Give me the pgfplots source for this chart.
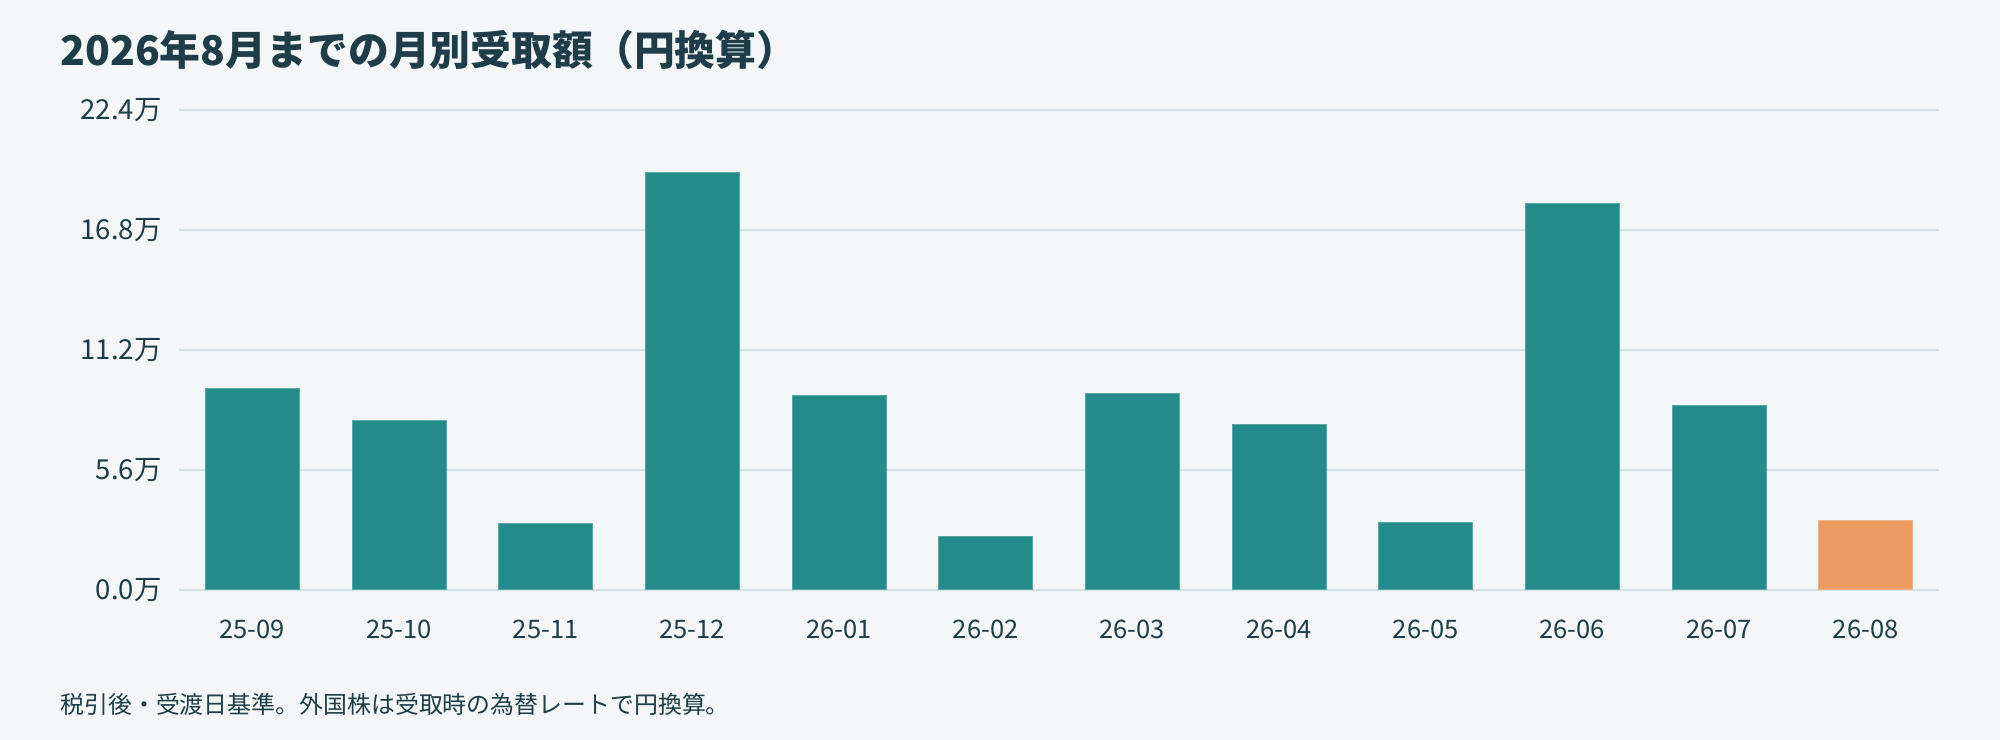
\documentclass[border=0pt]{standalone}
\usepackage{fontspec}
\setmainfont{Noto Sans CJK JP}
\usepackage{pgfplots}
\pgfplotsset{compat=1.18}
\definecolor{bgc}{HTML}{F3F7F8}
\definecolor{gridc}{HTML}{D2E0E3}
\definecolor{barteal}{HTML}{238B89}
\definecolor{barorange}{HTML}{EB9A62}
\definecolor{txt}{HTML}{1E3D48}
\begin{document}
\begin{tikzpicture}
\useasboundingbox (0,0) rectangle (1000bp,370bp);
\fill[bgc] (0,0) rectangle (1000bp,370bp);
\node[anchor=base west, inner sep=0pt, font=\fontsize{20.5}{24}\selectfont\bfseries, text=txt] at (30bp,337bp) {2026年8月までの月別受取額（円換算）};
\node[anchor=base west, inner sep=0pt, font=\fontsize{12}{14}\selectfont, text=txt] at (30bp,13.5bp) {税引後・受渡日基準。外国株は受取時の為替レートで円換算。};
\begin{axis}[
  at={(89.5bp,75bp)}, anchor=south west,
  scale only axis, width=880bp, height=240bp,
  xmin=-0.5, xmax=11.5, ymin=0, ymax=22.4,
  axis line style={draw=none},
  ymajorgrids, grid style={gridc, line width=0.85bp},
  xtick={0,1,2,3,4,5,6,7,8,9,10,11},
  xticklabels={25-09,25-10,25-11,25-12,26-01,26-02,26-03,26-04,26-05,26-06,26-07,26-08},
  ytick={0,5.6,11.2,16.8,22.4},
  yticklabels={0.0万,5.6万,11.2万,16.8万,22.4万},
  major tick length=0pt,
  tick label style={text=txt},
  xticklabel style={font=\fontsize{12.8}{14}\selectfont, anchor=base, inner sep=0pt, yshift=-24.5bp},
  yticklabel style={font=\fontsize{13.8}{15}\selectfont, anchor=east, inner sep=0pt, xshift=-8.5bp},
  ybar, bar width=47bp, bar shift=0pt,
]
\addplot[fill=barteal, draw=barteal!75!white, line width=0.5bp] coordinates {
(0,9.41) (1,7.92) (2,3.11) (3,19.47) (4,9.07) (5,2.49) (6,9.18) (7,7.70) (8,3.16) (9,18.04) (10,8.62)};
\addplot[fill=barorange, draw=barorange!75!white, line width=0.5bp] coordinates {(11,3.25)};
\end{axis}
\end{tikzpicture}
\end{document}
